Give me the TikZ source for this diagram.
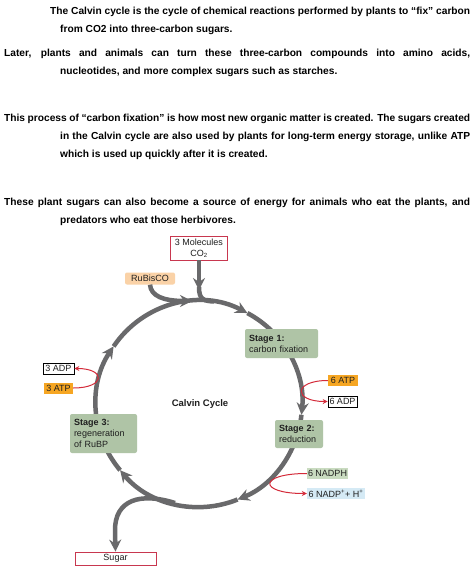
\documentclass[tikz,border=0pt]{standalone}
\usepackage{fontspec}
\setmainfont{Liberation Sans}
\usetikzlibrary{arrows.meta,positioning,calc}
\definecolor{ringgray}{HTML}{69696B}
\definecolor{stagegreen}{HTML}{AFC4A6}
\definecolor{atporange}{HTML}{F6A623}
\definecolor{rubiscoorange}{HTML}{FAD2A7}
\definecolor{nadphgreen}{HTML}{C9DBC0}
\definecolor{nadpblue}{HTML}{D5EAF5}
\definecolor{boxred}{HTML}{C8374F}
\definecolor{arrowred}{HTML}{D42B3A}
\newcommand{\fullline}[2]{{\spaceskip=0pt\xspaceskip=0pt\makebox[#1][s]{#2}}} % 両端揃えの1行

\begin{document}
\begin{tikzpicture}[x=1pt,y=-1pt,
  ring/.style={line width=4.5pt,draw=ringgray},
  ringtip/.style={-{Stealth[length=12pt,width=12pt,inset=4pt]}},
  redarrow/.style={draw=arrowred,line width=1pt,-{Stealth[length=5pt,width=5pt]}},
  para/.style={anchor=north west,inner sep=0pt,text width=466pt,align=left,
    font=\fontsize{10.2}{18}\selectfont\bfseries,
    execute at begin node={\spaceskip=0pt\xspaceskip=0pt}},
  lbl/.style={font=\fontsize{9}{11}\selectfont,text=black!88,inner sep=0pt},
  stage/.style={lbl,fill=stagegreen,rounded corners=2pt,align=left,inner xsep=4pt},
  chem/.style={lbl,minimum height=11pt}]
  \useasboundingbox[fill=white] (0,0) rectangle (474,569);
  \def\cx{199}  % 回路の中心x
  \def\cy{404}  % 回路の中心y
  \def\R{103}   % 回路の半径
  % 説明文
  \node[para] (p1) at (4,6.5) {\hspace*{46pt}\fullline{420pt}{The Calvin cycle is the cycle of chemical reactions performed by plants to “fix” carbon}\\
    \hspace*{56pt}from CO2 into three-carbon sugars.};
  \node[para] (p2) at (4,49) {\fullline{466pt}{Later, plants and animals can turn these three-carbon compounds into amino acids,}\\
    \hspace*{56pt}nucleotides, and more complex sugars such as starches.};
  \node[para] (p3) at (4,114) {\fullline{466pt}{This process of “carbon fixation” is how most new organic matter is created. The sugars created}\\
    \hspace*{56pt}\fullline{410pt}{in the Calvin cycle are also used by plants for long-term energy storage, unlike ATP}\\
    \hspace*{56pt}which is used up quickly after it is created.};
  \node[para] (p4) at (4,198) {\fullline{466pt}{These plant sugars can also become a source of energy for animals who eat the plants, and}\\
    \hspace*{56pt}predators who eat those herbivores.};
  % 回路(時計回り)
  \foreach \a/\b in {214/298,298/366,366/428,428/500,500/574}
    \draw[ring,ringtip] (\cx,\cy) ++(\a:\R) arc[start angle=\a,end angle=\b,radius=\R];
  \node[lbl,font=\fontsize{9.5}{11}\selectfont\bfseries] (cc) at (200,404) {Calvin Cycle};
  % CO2の入口
  \node[lbl,draw=boxred,line width=0.8pt,fill=white,minimum width=57pt,minimum height=24pt,align=center] (co2) at (199,248) {3 Molecules\\CO\textsubscript{2}};
  \coordinate (co2in) at (199,290);
  \draw[ring,ringtip] (co2.south) -- (co2in);
  \draw[ring] (co2in) ++(0,-3) .. controls (199,299) and (203,301) .. (214,301.5);
  \node[lbl,fill=rubiscoorange,rounded corners=2pt,minimum width=50pt,minimum height=12pt] (rubisco) at (150,278.5) {RuBisCO};
  \draw[ring,ringtip] (rubisco.south) .. controls (151,296) and (163,301) .. (192,301);
  % 各段階
  \node[stage,text width=65pt,minimum height=29pt] (st1) at (281.5,343.5) {\textbf{Stage 1:}\\carbon fixation};
  \node[stage,text width=40pt,minimum height=28pt] (st2) at (299,434) {\textbf{Stage 2:}\\reduction};
  \node[stage,text width=59pt,minimum height=39pt] (st3) at (103.5,433.5) {\textbf{Stage 3:}\\regeneration\\of RuBP};
  % ATP, NADPH
  \node[chem,fill=atporange,minimum width=30pt] (atp6) at (343,380.5) {6 ATP};
  \node[chem,draw=black,line width=0.6pt,minimum width=29pt] (adp6) at (342.5,401.5) {6 ADP};
  \draw[redarrow] (atp6.west) .. controls (293,380.5) and (293,401.5) .. (adp6.west);
  \node[chem,draw=black,line width=0.6pt,minimum width=31pt] (adp3) at (58.5,368.5) {3 ADP};
  \node[chem,fill=atporange,minimum width=29pt] (atp3) at (58.5,388) {3 ATP};
  \draw[redarrow] (atp3.east) .. controls (106,388) and (106,368.5) .. (adp3.east);
  \node[chem,fill=nadphgreen,minimum width=41pt] (nadph) at (327.5,473.5) {6 NADPH};
  \node[chem,fill=nadpblue,minimum width=58pt] (nadp) at (336,493.5) {6 NADP\textsuperscript{+}+ H\textsuperscript{+}};
  \draw[redarrow] (nadph.west) .. controls (258,473.5) and (258,493.5) .. (nadp.west);
  % 糖の出口
  \node[lbl,draw=boxred,line width=0.8pt,fill=white,minimum width=81pt,minimum height=13pt] (sugar) at (115.5,558.5) {Sugar};
  \coordinate (branch) at (175,503);
  \draw[ring,ringtip] (branch) .. controls (140,492) and (115,500) .. (115,530) -- (sugar.north);
\end{tikzpicture}
\end{document}
